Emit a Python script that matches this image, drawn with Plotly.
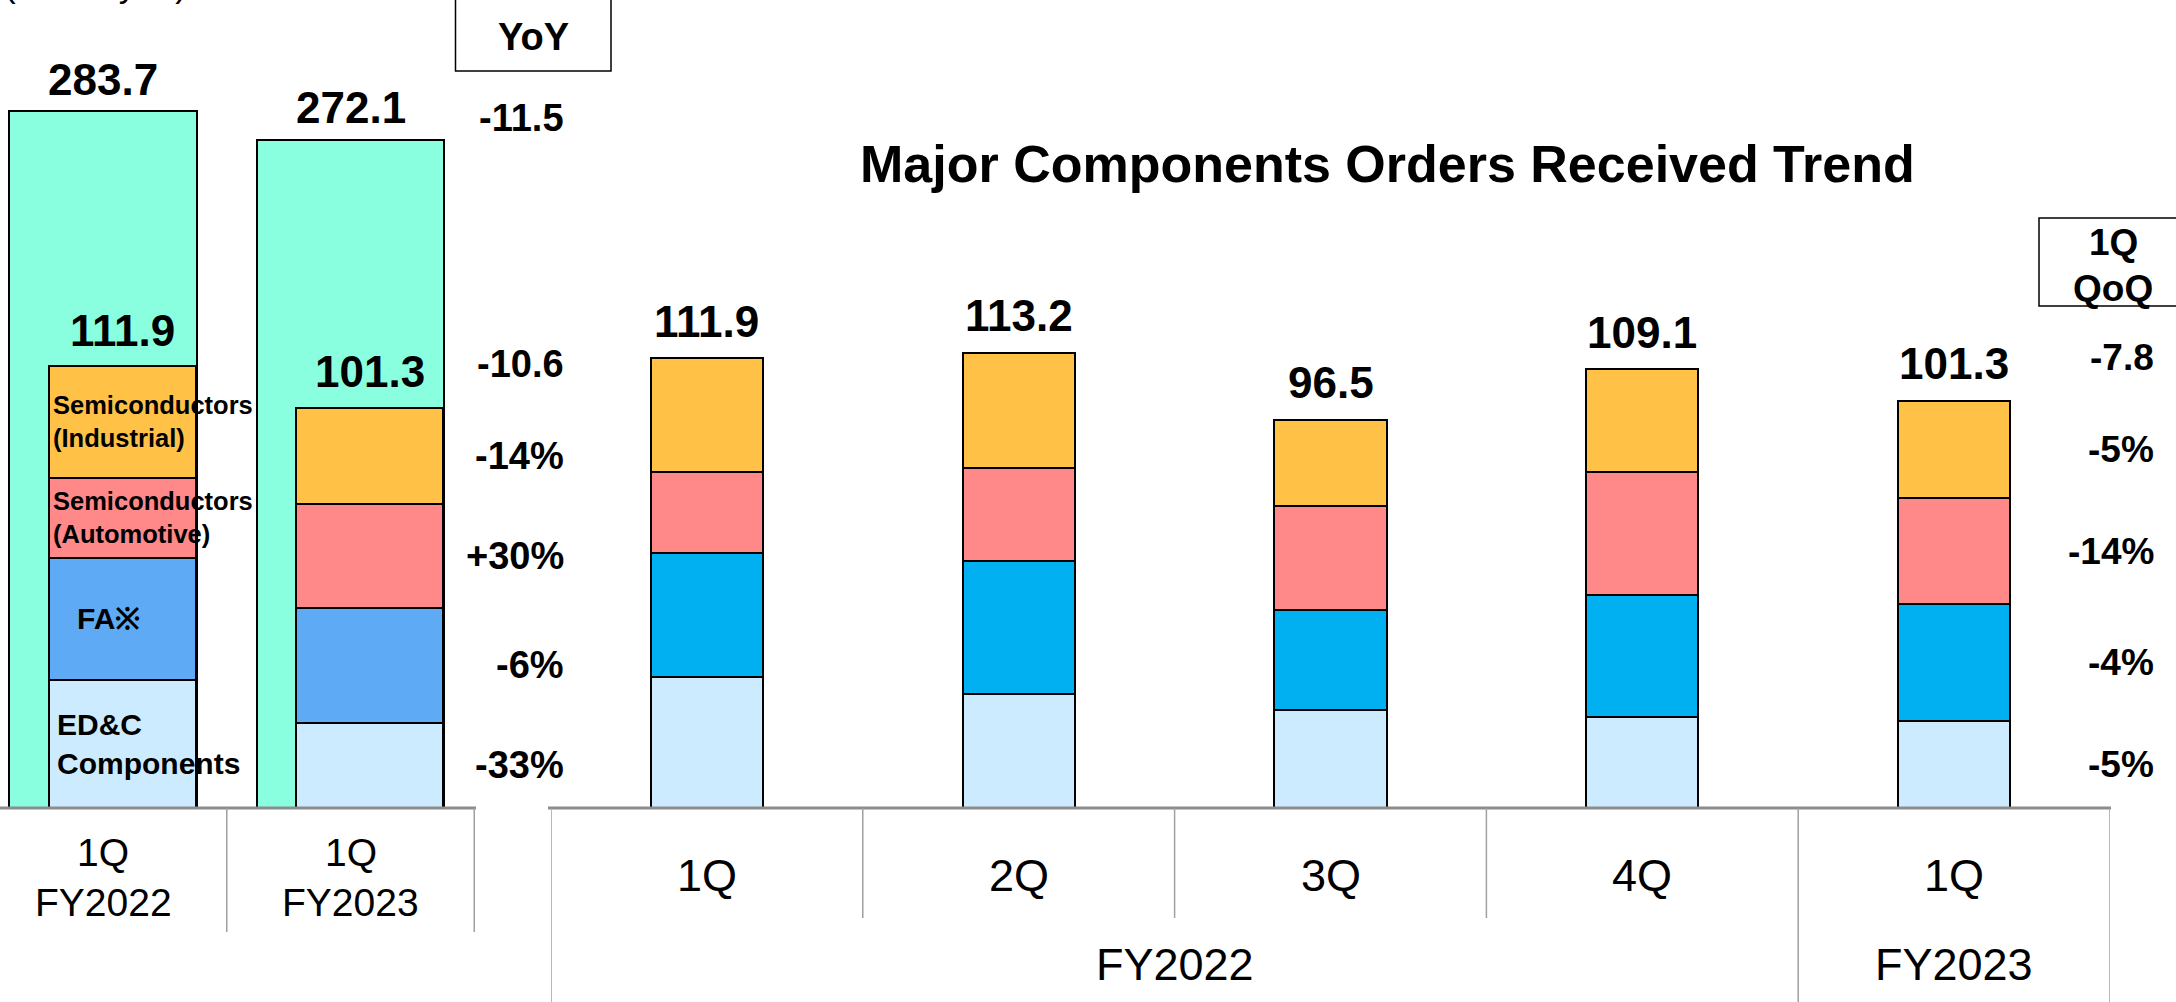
import plotly.graph_objects as go

W, H = 2176, 1002

# ---------------- data ----------------
segment_names = ["ED&C Components", "FA※", "Semiconductors (Automotive)", "Semiconductors (Industrial)"]
segment_text = ["ED&C<br>Components", "FA※", "Semiconductors<br>(Automotive)", "Semiconductors<br>(Industrial)"]

# left comparison panel
cmp_periods = ["1Q FY2022", "1Q FY2023"]
cmp_quarter = ["1Q", "1Q"]
cmp_year = ["FY2022", "FY2023"]
all_components_total = [283.7, 272.1]

# right trend panel (major components orders received, billion yen)
quarters = ["1Q", "2Q", "3Q", "4Q", "1Q"]
fiscal_years = ["FY2022", "FY2022", "FY2022", "FY2022", "FY2023"]
edc_q = [32.5, 28.4, 24.4, 22.7, 21.6]
fa_q = [30.9, 33.0, 24.9, 30.3, 29.1]
auto_q = [20.2, 23.2, 25.7, 30.6, 26.3]
ind_q = [28.3, 28.6, 21.5, 25.5, 24.3]

yoy_total = "-11.5"
yoy_major = "-10.6"
yoy_pct = ["-33%", "-6%", "+30%", "-14%"]     # ED&C, FA, Auto, Industrial
qoq_major = "-7.8"
qoq_pct = ["-5%", "-4%", "-14%", "-5%"]       # ED&C, FA, Auto, Industrial

# ---------------- styles ----------------
FONT = "Arial, Liberation Sans, sans-serif"
C_BIG = "#8AFFE0"
C_IND = "#FFC247"
C_AUTO = "#FF8989"
C_FA_L = "#5EAAF5"
C_FA_R = "#00B0F0"
C_EDC = "#CCEBFF"
GRAY = "#8C8C8C"


def py(px):
    return 1 - px / H


def px_x(px):
    return px / W


categories = [f"{q} {y}" for q, y in zip(quarters, fiscal_years)]
segs_q = [edc_q, fa_q, auto_q, ind_q]
segs_cmp = [[s[0], s[-1]] for s in segs_q]
totals_q = [round(sum(v), 1) for v in zip(*segs_q)]
totals_cmp = [round(sum(v), 1) for v in zip(*segs_cmp)]

fig = go.Figure()

# big bars: all components
fig.add_trace(go.Bar(
    x=cmp_periods, y=all_components_total, xaxis="x", yaxis="y",
    width=0.756, marker=dict(color=C_BIG, line=dict(color="#000", width=2)),
    showlegend=False, hoverinfo="skip"))

left_colors = [C_EDC, C_FA_L, C_AUTO, C_IND]
right_colors = [C_EDC, C_FA_R, C_AUTO, C_IND]
INNER_OFF = -0.22
INNER_W = 0.594
for name, vals, col in zip(segment_names, segs_cmp, left_colors):
    fig.add_trace(go.Bar(
        x=cmp_periods, y=vals, xaxis="x", yaxis="y2", name=name,
        offset=INNER_OFF, width=INNER_W,
        marker=dict(color=col, line=dict(color="#000", width=2)),
        showlegend=False, hoverinfo="skip"))

for name, vals, col in zip(segment_names, segs_q, right_colors):
    fig.add_trace(go.Bar(
        x=categories, y=vals, xaxis="x2", yaxis="y3", name=name,
        width=0.36,
        marker=dict(color=col, line=dict(color="#000", width=2)),
        showlegend=False, hoverinfo="skip"))

ann = []


def text(x, y, s, size, bold=True, xref="paper", yref="paper", xanchor="center",
         yanchor="middle", xshift=0, yshift=0, align="center"):
    ann.append(dict(x=x, y=y, xref=xref, yref=yref, text=f"<b>{s}</b>" if bold else s,
                    showarrow=False, xanchor=xanchor, yanchor=yanchor,
                    xshift=xshift, yshift=yshift, align=align,
                    font=dict(family=FONT, size=size, color="#000")))


# unit caption (mostly cut off at top, as in the source slide)
text(px_x(2), py(6), "(Billion yen)", 35, bold=False, xanchor="left", yanchor="bottom")

# title
text(px_x(1387), py(164), "Major Components Orders Received Trend", 52)

# left panel totals
for i, v in enumerate(all_components_total):
    text(i, v, f"{v:.1f}", 44, xref="x", yref="y", yshift=32)
for i, v in enumerate(totals_cmp):
    text(i + INNER_OFF + INNER_W / 2, v, f"{v:.1f}", 44, xref="x", yref="y2", yshift=36)

# segment names inside first inner bar
cum = 0
seg_font = [30, 30, 25.5, 25.5]
seg_shift = [6, 26, 2, 2]
for lab, vals, fs, sh in zip(segment_text, segs_cmp, seg_font, seg_shift):
    mid = cum + vals[0] / 2
    cum += vals[0]
    text(INNER_OFF, mid, lab, fs, xref="x", yref="y2", xanchor="left", xshift=sh, align="left")

# YoY box and values
ann_yoy_x = px_x(566)
text(px_x(533), py(37), "YoY", 38)
text(ann_yoy_x, all_components_total[1], yoy_total, 38, yref="y", xanchor="right", yshift=22)
text(ann_yoy_x, totals_cmp[1], yoy_major, 38, yref="y2", xanchor="right", yshift=44)
cum = 0
for lab, vals in zip(yoy_pct, segs_cmp):
    mid = cum + vals[1] / 2
    cum += vals[1]
    text(ann_yoy_x, mid, lab, 38, yref="y2", xanchor="right")

# left axis labels
for i, (q, y) in enumerate(zip(cmp_quarter, cmp_year)):
    text(i, py(852), q, 39, bold=False, xref="x")
    text(i, py(902), y, 39, bold=False, xref="x")

# right panel totals
for i, v in enumerate(totals_q):
    text(i, v, f"{v:.1f}", 44, xref="x2", yref="y3", yshift=37)

# QoQ box and values
qx = px_x(2156)
text(px_x(2113), py(243), "1Q", 37)
text(px_x(2113), py(288), "QoQ", 37)
text(qx, totals_q[-1], qoq_major, 37, yref="y3", xanchor="right", yshift=43)
cum = 0
for lab, vals in zip(qoq_pct, segs_q):
    mid = cum + vals[-1] / 2
    cum += vals[-1]
    text(qx, mid, lab, 37, yref="y3", xanchor="right")

# right axis labels
for i, q in enumerate(quarters):
    text(i, py(875), q, 45, bold=False, xref="x2")
year_groups = {}
for i, y in enumerate(fiscal_years):
    year_groups.setdefault(y, []).append(i)
for y, idx in year_groups.items():
    text((idx[0] + idx[-1]) / 2, py(964), y, 45, bold=False, xref="x2")

shapes = []


def line(x0, y0, x1, y1, xref="paper", yref="paper", color=GRAY, width=3):
    shapes.append(dict(type="line", x0=x0, y0=y0, x1=x1, y1=y1, xref=xref, yref=yref,
                       line=dict(color=color, width=width)))


# left axis
line(0, py(808), px_x(476), py(808))
for b in [0.5, 1.5]:
    line(b, py(808), b, py(932), xref="x", color="#A0A0A0", width=1.5)
# right axis
line(px_x(548), py(808), px_x(2111), py(808))
for b in [0.5, 1.5, 2.5]:
    line(b, py(808), b, py(918), xref="x2", color="#A0A0A0", width=1.5)
for b in [-0.5, 3.5, 4.5]:
    line(b, py(808), b, py(1010), xref="x2", color="#A0A0A0", width=1.5)

# boxes
shapes.append(dict(type="rect", xref="paper", yref="paper", x0=px_x(455.5), x1=px_x(611),
                   y0=py(71), y1=py(-10), line=dict(color="#000", width=1.5)))
shapes.append(dict(type="rect", xref="paper", yref="paper", x0=px_x(2039), x1=px_x(2190),
                   y0=py(306), y1=py(218), line=dict(color="#000", width=1.5)))

s_big = 697 / 283.7
s_in = 442 / 111.9
s_r = 450 / 111.9
hidden = dict(visible=False, showgrid=False, zeroline=False, fixedrange=True)

fig.update_layout(
    width=W, height=H, margin=dict(l=0, r=0, t=0, b=0),
    paper_bgcolor="white", plot_bgcolor="rgba(0,0,0,0)",
    barmode="stack", bargap=0,
    xaxis=dict(domain=[0, 476 / W], type="category", categoryorder="array",
               categoryarray=cmp_periods, range=[-103 / 247.5, 373 / 247.5], **hidden),
    yaxis=dict(domain=[0, 1], range=[-(H - 808) / s_big, 808 / s_big], anchor="x", **hidden),
    yaxis2=dict(domain=[0, 1], range=[-(H - 808) / s_in, 808 / s_in], anchor="x",
                overlaying="y", **hidden),
    xaxis2=dict(domain=[551 / W, 2110 / W], type="category", categoryorder="array",
                categoryarray=categories, range=[-0.5, 4.5], anchor="y3", **hidden),
    yaxis3=dict(domain=[0, 1], range=[-(H - 808) / s_r, 808 / s_r], anchor="x2", **hidden),
    annotations=ann, shapes=shapes,
    font=dict(family=FONT),
)

fig.write_html(
    "out.html",
    config={"displayModeBar": False},
    post_script="document.body.style.margin='0';document.body.style.overflow='hidden';",
)
